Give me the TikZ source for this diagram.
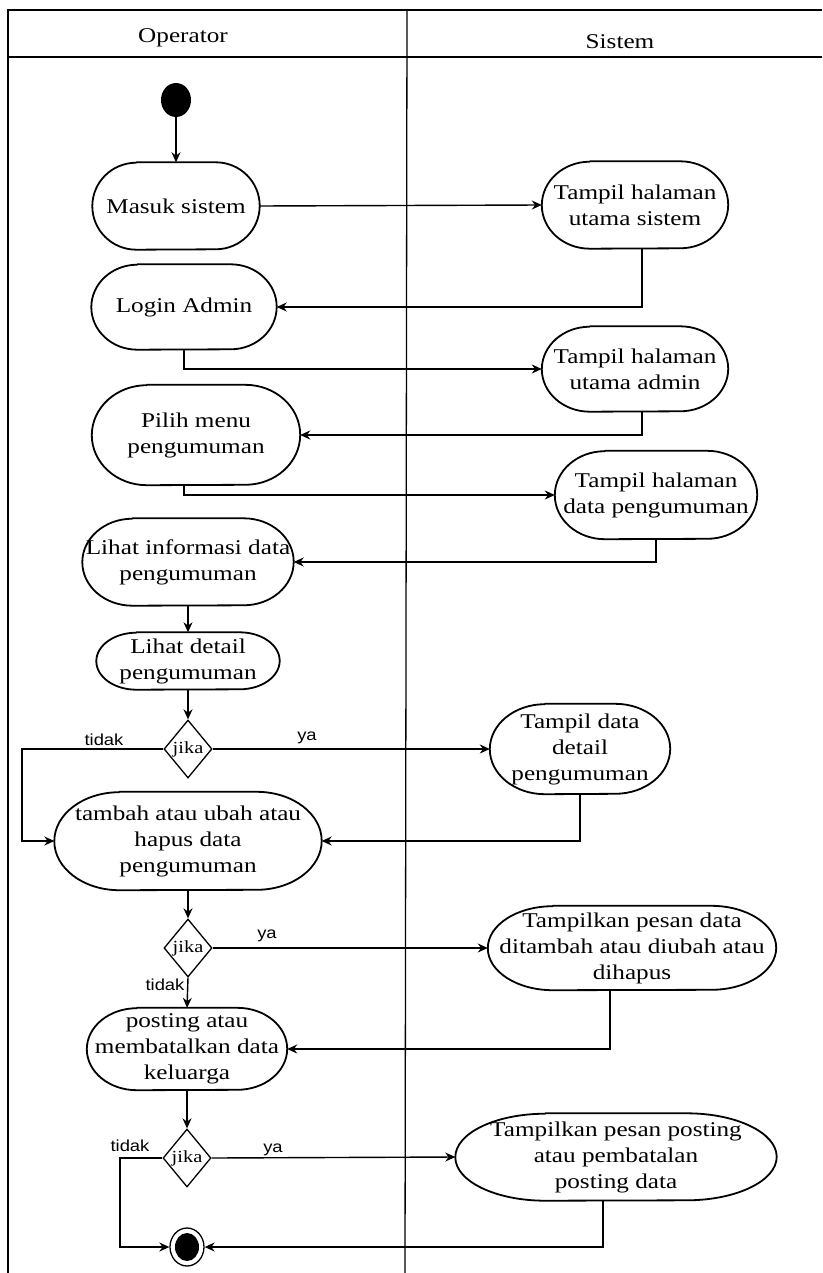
\documentclass[tikz,border=0pt]{standalone}
\usepackage{fontspec}
\setmainfont{Liberation Serif}[FakeStretch=1.2]
\newfontfamily\lblfont{Liberation Sans}[FakeStretch=1.15]
\usetikzlibrary{shapes.geometric,arrows.meta}
\tikzset{
  act/.style={align=center, inner sep=0pt, font=\fontsize{21}{26}\selectfont},
  outline/.style={draw, line width=1.8pt, line join=round},
  dec/.style={diamond, draw, line width=1.3pt, minimum width=48pt, minimum height=58pt,
    inner sep=0pt, font=\fontsize{17}{20}\selectfont},
  flow/.style={line width=1.4pt, -{Stealth[length=10pt,width=9pt]}},
  lbl/.style={font=\lblfont\fontsize{16}{19}\selectfont, inner sep=0pt},
  head/.style={font=\fontsize{21}{26}\selectfont, inner sep=0pt},
  frame/.style={line width=1.3pt}
}
\begin{document}
\begin{tikzpicture}[x=1pt,y=-1pt]
\useasboundingbox (0,0) rectangle (822,1273);
% swimlane frame
\draw[frame] (8,1273) -- (8,10) -- (822,10);
\draw[frame] (8,57) -- (822,57);
\draw[frame] (407,10) -- (405,1273);
\node[head] (hop) at (183,38) {Operator};
\node[head] (hsys) at (620,42) {Sistem};

% nodes
\node[fill, ellipse, minimum width=30pt, minimum height=34pt, inner sep=0pt] (start) at (176,100) {};
\node[act, minimum width=167pt, minimum height=87pt] (masuk) at (176,206) {Masuk sistem};
\node[act, minimum width=186pt, minimum height=87pt] (tsis) at (635,205) {Tampil halaman\\utama sistem};
\node[act, minimum width=185pt, minimum height=85pt] (login) at (184,307) {Login Admin};
\node[act, minimum width=186pt, minimum height=85pt] (tadm) at (635,369) {Tampil halaman\\utama admin};
\node[act, minimum width=208pt, minimum height=100pt] (pilih) at (196,435) {Pilih menu\\pengumuman};
\node[act, minimum width=202pt, minimum height=88pt] (tdata) at (656,495) {Tampil halaman\\data pengumuman};
\node[act, minimum width=211pt, minimum height=87pt] (lihat) at (188,562) {Lihat informasi data\\pengumuman};
\node[act, minimum width=183pt, minimum height=57pt] (detail) at (188,661) {Lihat detail\\pengumuman};
\node[dec] (d1) at (188,749) {jika};
\node[act, minimum width=180pt, minimum height=90pt] (tdet) at (580,749) {Tampil data\\detail\\pengumuman};
\node[act, minimum width=267pt, minimum height=98pt] (tambah) at (188,841) {tambah atau ubah atau\\hapus data\\pengumuman};
\node[dec] (d2) at (188,948) {jika};
\node[act, minimum width=288pt, minimum height=84pt] (tpesan) at (632,948) {Tampilkan pesan data\\ditambah atau diubah atau\\dihapus};
\node[act, minimum width=200pt, minimum height=82pt] (posting) at (187,1049) {posting atau\\membatalkan data\\keluarga};
\node[dec] (d3) at (187,1158) {jika};
\node[act, minimum width=321pt, minimum height=87pt] (tpost) at (616,1157) {Tampilkan pesan posting\\atau pembatalan\\posting data};
\node[draw, ellipse, line width=1.3pt, minimum width=34pt, minimum height=38pt, inner sep=0pt] (endn) at (187,1247) {};
\node[fill, ellipse, minimum width=24pt, minimum height=28pt, inner sep=0pt] (endin) at (endn) {};

% stadium outlines of the action nodes
\foreach \nm/\a/\b in {masuk/44pt/43.5pt, tsis/48pt/43.5pt, login/46pt/42.5pt,
    tadm/48pt/42.5pt, pilih/55pt/50pt, tdata/50pt/44pt, lihat/50pt/43.5pt,
    detail/40pt/28.5pt, tdet/55pt/45pt, tambah/65pt/49pt, tpesan/65pt/42pt,
    posting/50pt/41pt, tpost/90pt/43.5pt}
  \draw[outline] ([xshift=\a]\nm.north west) -- ([xshift=-\a]\nm.north east)
     arc[start angle=90, end angle=-90, x radius=\a, y radius=\b]
     -- ([xshift=\a]\nm.south west)
     arc[start angle=270, end angle=90, x radius=\a, y radius=\b] -- cycle;

% connectors
\draw[flow] (start) -- (masuk);
\draw[flow] (masuk.east) -- (tsis.west);
\draw[flow] ([xshift=7pt]tsis.south) |- (login.east);
\draw[flow] (login.south) |- (tadm.west);
\draw[flow] ([xshift=7pt]tadm.south) |- (pilih.east);
\draw[flow] ([xshift=-12pt]pilih.south) |- (tdata.west);
\draw[flow] (tdata.south) |- (lihat.east);
\draw[flow] (lihat.south) -- (detail.north);
\draw[flow] (detail.south) -- (d1.north);
\coordinate (c1) at (22,841);
\draw[flow] (d1.west) -| (c1) -- (tambah.west);
\draw[flow] (d1.east) -- (tdet.west);
\draw[flow] (tdet.south) |- (tambah.east);
\draw[flow] (tambah.south) -- (d2.north);
\draw[flow] (d2.east) -- (tpesan.west);
\draw[flow] (d2.south) -- (posting.north);
\draw[flow] ([xshift=-22pt]tpesan.south) |- (posting.east);
\draw[flow] (posting.south) -- (d3.north);
\draw[flow] (d3.east) -- (tpost.west);
\coordinate (c3) at (120,1247);
\draw[flow] (d3.west) -| (c3) -- (endn.west);
\draw[flow] ([xshift=-13pt]tpost.south) |- (endn.east);

% guard labels
\node[lbl] (l1) at (104,740) {tidak};
\node[lbl] (l2) at (307,738) {ya};
\node[lbl] (l3) at (267,936) {ya};
\node[lbl] (l4) at (165,985) {tidak};
\node[lbl] (l5) at (130,1146) {tidak};
\node[lbl] (l6) at (273,1150) {ya};
\end{tikzpicture}
\end{document}
